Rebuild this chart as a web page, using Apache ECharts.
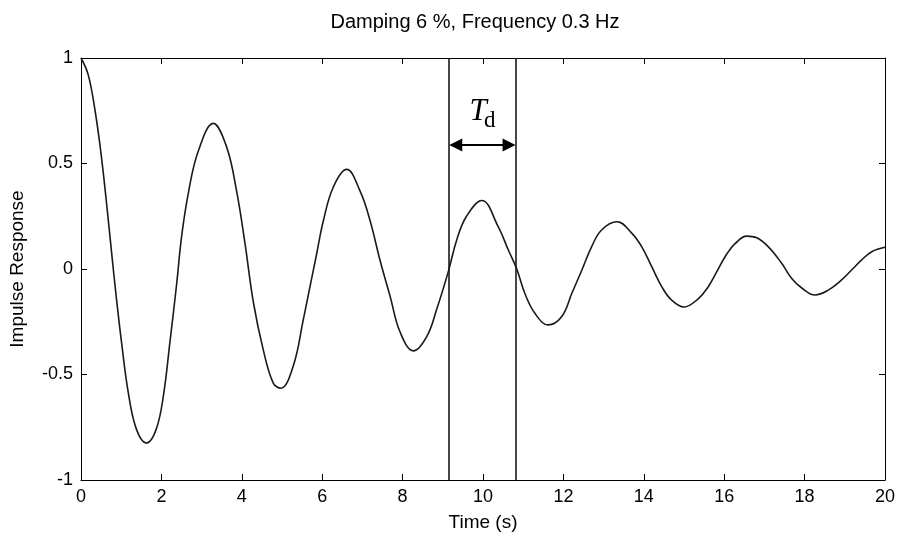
<!DOCTYPE html>
<html>
<head>
<meta charset="utf-8">
<script src="https://cdn.jsdelivr.net/npm/echarts@6/dist/echarts.min.js"></script>
<style>
  html, body { margin: 0; padding: 0; background: #fff; }
  #chart { width: 905px; height: 538px; }
</style>
</head>
<body>
<div id="chart"></div>
<script>
// Impulse response of a lightly damped oscillator (6 % damping, 0.3 Hz)
const timeSec = [0, 0.18, 0.35, 0.49, 0.62, 0.76, 0.87, 1.01, 1.18, 1.38, 1.63, 1.87, 2.05, 2.21, 2.38, 2.50, 2.67, 2.92, 3.29, 3.62, 3.87, 4.08, 4.29, 4.53, 4.78, 4.97, 5.28, 5.53, 5.70, 5.86, 6.03, 6.28, 6.61, 6.94, 7.19, 7.44, 7.69, 7.94, 8.27, 8.60, 8.85, 9.14, 9.35, 9.59, 9.97, 10.38, 10.63, 10.84, 11.04, 11.29, 11.62, 11.96, 12.21, 12.46, 12.70, 12.95, 13.33, 13.70, 13.95, 14.20, 14.45, 14.69, 15.00, 15.36, 15.60, 15.81, 16.06, 16.27, 16.56, 16.81, 17.10, 17.43, 17.68, 17.93, 18.26, 18.59, 18.92, 19.17, 19.42, 19.67, 20.0];
const response = [1.0, 0.92, 0.75, 0.56, 0.34, 0.08, -0.12, -0.35, -0.59, -0.76, -0.825, -0.76, -0.60, -0.35, -0.07, 0.15, 0.36, 0.56, 0.69, 0.58, 0.37, 0.12, -0.16, -0.38, -0.54, -0.565, -0.46, -0.24, -0.08, 0.07, 0.23, 0.39, 0.472, 0.37, 0.23, 0.04, -0.13, -0.30, -0.388, -0.32, -0.19, -0.01, 0.14, 0.25, 0.325, 0.20, 0.09, 0.0, -0.115, -0.21, -0.265, -0.225, -0.115, -0.005, 0.105, 0.185, 0.224, 0.17, 0.105, 0.01, -0.085, -0.147, -0.18, -0.14, -0.085, -0.015, 0.07, 0.12, 0.156, 0.148, 0.105, 0.027, -0.045, -0.09, -0.123, -0.10, -0.052, -0.005, 0.043, 0.082, 0.103];

// Zero crossings bounding one damped half-period, and the height of the arrow
const periodBounds = [9.16, 10.81];
const arrowLevel = 0.588;

const xTicks = { min: 0, max: 20, interval: 2 };
const yTicks = { min: -1, max: 1, interval: 0.5 };

const FONT = '"Liberation Sans", Arial, Helvetica, sans-serif';
const SERIF = '"Liberation Serif", "Times New Roman", serif';
const INK = '#000';
const ARROW_HEAD = 13;

const chart = echarts.init(document.getElementById('chart'), null, { renderer: 'canvas' });

const axisLine = { show: true, onZero: false, lineStyle: { color: INK, width: 1 } };
const tick = { show: true, inside: true, length: 6, lineStyle: { color: INK, width: 1 } };

chart.setOption({
  animation: false,
  backgroundColor: '#fff',
  title: {
    text: 'Damping 6 %, Frequency 0.3 Hz',
    left: 470,
    textAlign: 'center',
    top: 7,
    textStyle: { fontFamily: FONT, fontSize: 20, fontWeight: 'normal', color: INK }
  },
  grid: { left: 81, right: 20, top: 58, bottom: 58 },
  xAxis: [
    {
      type: 'value', position: 'bottom', ...xTicks,
      axisLine, axisTick: tick, splitLine: { show: false },
      axisLabel: { fontFamily: FONT, fontSize: 18, color: INK, margin: 8 },
      name: 'Time (s)', nameLocation: 'middle', nameGap: 33,
      nameTextStyle: { fontFamily: FONT, fontSize: 19, color: INK }
    },
    {
      type: 'value', position: 'top', ...xTicks,
      axisLine, axisTick: tick, splitLine: { show: false },
      axisLabel: { show: false }
    }
  ],
  yAxis: [
    {
      type: 'value', position: 'left', ...yTicks,
      axisLine, axisTick: tick, splitLine: { show: false },
      axisLabel: { fontFamily: FONT, fontSize: 18, color: INK, margin: 8 },
      name: 'Impulse Response', nameLocation: 'middle', nameGap: 54, nameRotate: 90,
      nameTextStyle: { fontFamily: FONT, fontSize: 19, color: INK }
    },
    {
      type: 'value', position: 'right', ...yTicks,
      axisLine, axisTick: tick, splitLine: { show: false },
      axisLabel: { show: false }
    }
  ],
  series: [
    {
      name: 'Impulse Response',
      type: 'line',
      data: timeSec.map((t, i) => [t, response[i]]),
      showSymbol: false,
      smooth: 0.4,
      lineStyle: { color: '#1a1a1a', width: 1.6 },
      markLine: {
        silent: true,
        symbol: 'none',
        label: { show: false },
        lineStyle: { color: '#1a1a1a', width: 1.6, type: 'solid' },
        data: periodBounds.map(t => ({ xAxis: t }))
      }
    },
    {
      id: 'td',
      name: 'Td',
      type: 'line',
      data: [],
      markPoint: {
        silent: true,
        symbolSize: 0,
        data: [
          {
            coord: [9.88, 0.745],
            label: { show: true, formatter: 'T', fontFamily: SERIF, fontStyle: 'italic', fontSize: 31, color: INK }
          },
          {
            coord: [10.17, 0.70],
            label: { show: true, formatter: 'd', fontFamily: SERIF, fontSize: 23, color: INK }
          }
        ]
      }
    }
  ]
});

// Double-headed arrow between the bounding lines: the heads are centred on the
// line ends, so pull each end inward by half a head so the tips touch the lines.
const inset = ARROW_HEAD / 2;
const leftPx = chart.convertToPixel({ xAxisIndex: 0 }, periodBounds[0]) + inset;
const rightPx = chart.convertToPixel({ xAxisIndex: 0 }, periodBounds[1]) - inset;
const arrowStart = chart.convertFromPixel({ xAxisIndex: 0 }, leftPx);
const arrowEnd = chart.convertFromPixel({ xAxisIndex: 0 }, rightPx);

chart.setOption({
  series: [{
    id: 'td',
    markLine: {
      silent: true,
      symbol: ['triangle', 'triangle'],
      symbolSize: [ARROW_HEAD, ARROW_HEAD],
      label: { show: false },
      lineStyle: { color: INK, width: 2, type: 'solid' },
      data: [[
        { coord: [arrowStart, arrowLevel] },
        { coord: [arrowEnd, arrowLevel] }
      ]]
    }
  }]
});
</script>
</body>
</html>
